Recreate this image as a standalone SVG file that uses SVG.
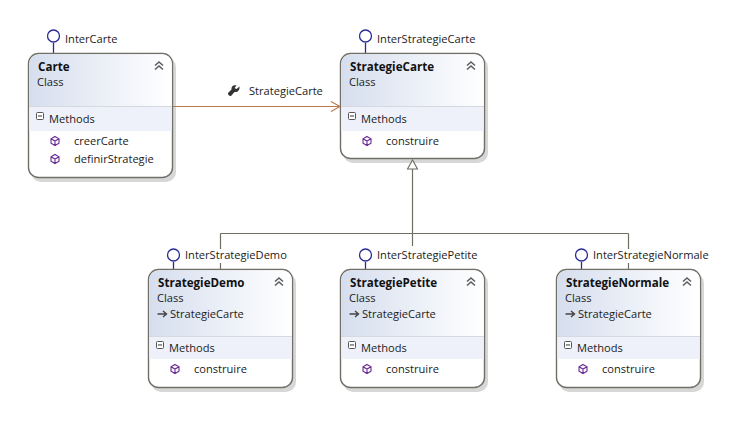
<svg xmlns="http://www.w3.org/2000/svg" width="756" height="432" viewBox="0 0 756 432">
<style>
text{font-family:"Open Sans","Noto Sans","Liberation Sans",sans-serif;font-size:11.1px;fill:#1b1b1b}
.t{font-weight:700;font-size:11.6px;fill:#111}
.s{fill:#c9c9c9;opacity:.75}
.o{fill:#fff;stroke:#6f6f68;stroke-width:1.4}
.b{fill:#eef1f9}
.l{stroke:#d5d8de;stroke-width:1;fill:none}
.lol{fill:#fff;stroke:#2a2a96;stroke-width:1.3}
.stem{stroke:#2a2a96;stroke-width:1.3;fill:none}
.g{fill:none;stroke:#6e6e64;stroke-width:1.2}
.a{fill:none;stroke:#b9784d;stroke-width:1.1}
.m{fill:none;stroke:#6a2a96;stroke-width:1.1}
.c{fill:none;stroke:#5f5f5f;stroke-width:1.6}
.x{fill:#fff;stroke:#555;stroke-width:1}
</style>
<defs>
<linearGradient id="h" x1="0" y1="0" x2="1" y2="0"><stop offset="0" stop-color="#d6deee"/><stop offset="1" stop-color="#fff"/></linearGradient>
<g id="cube"><path class="m" d="M0-4.500 4-2.200V2.200L0 4.500-4 2.200V-2.200ZM-4-2.200 0 0 4-2.200M0 0V4.500"/></g>
<g id="chev"><path class="c" d="M-4 -0.500 0-4 4-0.500M-4 3.500 0 0 4 3.500"/></g>
<g id="minus"><rect class="x" x="-3.500" y="-3.500" width="7" height="7" rx="1"/><path d="M-2 0H2" stroke="#333" stroke-width="1"/></g>
<g id="inh"><path d="M-5.500 0H3M0-3 3.500 0 0 3" fill="none" stroke="#444" stroke-width="1.400"/></g>
</defs>

<g id="node-carte">
<rect class="s" x="31" y="57" width="145" height="125" rx="10"/>
<path class="stem" d="M53.500 43V54"/><circle class="lol" cx="53.500" cy="36" r="6"/>
<text x="65" y="43">InterCarte</text>
<rect class="o" x="28.500" y="53.500" width="144" height="124" rx="10"/>
<path d="M29.200 106V63.500A9.300 9.300 0 0 1 38.500 54.200H162.500A9.300 9.300 0 0 1 171.800 63.500V106Z" fill="url(#h)"/>
<rect class="b" x="29.200" y="106" width="142.600" height="25"/>
<path class="l" d="M29 106.500H172"/>
<text class="t" x="38" y="71">Carte</text><text x="37" y="86">Class</text>
<use href="#chev" x="159" y="66"/>
<use href="#minus" x="40" y="116"/><text x="49" y="123">Methods</text>
<use href="#cube" x="55" y="141"/><text x="74" y="145">creerCarte</text>
<use href="#cube" x="55" y="159"/><text x="74" y="163">definirStrategie</text>
</g>

<g id="node-strategiecarte">
<rect class="s" x="343" y="57" width="145" height="106" rx="10"/>
<path class="stem" d="M365.500 43V54"/><circle class="lol" cx="365.500" cy="36" r="6"/>
<text x="377" y="43">InterStrategieCarte</text>
<rect class="o" x="340.500" y="53.500" width="144" height="105" rx="10"/>
<path d="M341.200 106V63.500A9.300 9.300 0 0 1 350.500 54.200H474.500A9.300 9.300 0 0 1 483.800 63.500V106Z" fill="url(#h)"/>
<rect class="b" x="341.200" y="106" width="142.600" height="25"/>
<path class="l" d="M341 106.500H484"/>
<text class="t" x="350" y="71">StrategieCarte</text><text x="349" y="86">Class</text>
<use href="#chev" x="471" y="66"/>
<use href="#minus" x="352" y="116"/><text x="361" y="123">Methods</text>
<use href="#cube" x="367" y="141"/><text x="386" y="145">construire</text>
</g>

<g id="node-strategiedemo">
<rect class="s" x="151" y="273" width="145" height="119" rx="10"/>
<path class="stem" d="M173.500 262V269"/><circle class="lol" cx="173.500" cy="255" r="6"/>
<text x="185" y="259">InterStrategieDemo</text>
<rect class="o" x="148.500" y="269.500" width="144" height="118" rx="10"/>
<path d="M149.200 336V279.500A9.300 9.300 0 0 1 158.500 270.200H282.500A9.300 9.300 0 0 1 291.800 279.500V336Z" fill="url(#h)"/>
<rect class="b" x="149.200" y="336" width="142.600" height="23"/>
<path class="l" d="M149 336.500H292"/>
<text class="t" x="158" y="287">StrategieDemo</text><text x="157" y="302">Class</text>
<use href="#inh" x="163" y="314"/><text x="170" y="318">StrategieCarte</text>
<use href="#chev" x="279" y="282"/>
<use href="#minus" x="160" y="345"/><text x="169" y="352">Methods</text>
<use href="#cube" x="175" y="369"/><text x="194" y="373">construire</text>
</g>

<g id="node-strategiepetite">
<rect class="s" x="343" y="273" width="145" height="119" rx="10"/>
<path class="stem" d="M365.500 262V269"/><circle class="lol" cx="365.500" cy="255" r="6"/>
<text x="377" y="259">InterStrategiePetite</text>
<rect class="o" x="340.500" y="269.500" width="144" height="118" rx="10"/>
<path d="M341.200 336V279.500A9.300 9.300 0 0 1 350.500 270.200H474.500A9.300 9.300 0 0 1 483.800 279.500V336Z" fill="url(#h)"/>
<rect class="b" x="341.200" y="336" width="142.600" height="23"/>
<path class="l" d="M341 336.500H484"/>
<text class="t" x="350" y="287">StrategiePetite</text><text x="349" y="302">Class</text>
<use href="#inh" x="355" y="314"/><text x="362" y="318">StrategieCarte</text>
<use href="#chev" x="471" y="282"/>
<use href="#minus" x="352" y="345"/><text x="361" y="352">Methods</text>
<use href="#cube" x="367" y="369"/><text x="386" y="373">construire</text>
</g>

<g id="node-strategienormale">
<rect class="s" x="559" y="273" width="145" height="119" rx="10"/>
<path class="stem" d="M581.500 262V269"/><circle class="lol" cx="581.500" cy="255" r="6"/>
<text x="593" y="259">InterStrategieNormale</text>
<rect class="o" x="556.500" y="269.500" width="144" height="118" rx="10"/>
<path d="M557.200 336V279.500A9.300 9.300 0 0 1 566.500 270.200H690.500A9.300 9.300 0 0 1 699.800 279.500V336Z" fill="url(#h)"/>
<rect class="b" x="557.200" y="336" width="142.600" height="23"/>
<path class="l" d="M557 336.500H700"/>
<text class="t" x="566" y="287">StrategieNormale</text><text x="565" y="302">Class</text>
<use href="#inh" x="571" y="314"/><text x="578" y="318">StrategieCarte</text>
<use href="#chev" x="687" y="282"/>
<use href="#minus" x="568" y="345"/><text x="577" y="352">Methods</text>
<use href="#cube" x="583" y="369"/><text x="602" y="373">construire</text>
</g>

<g id="connectors">
<path class="a" d="M173 106.500H340M331 101.500 340 106.500 331 111.500"/>
<path class="g" d="M412.500 169V246"/>
<path class="g" d="M220.500 233.500H628.500M220.500 233.500V249M220.500 263V269M628.500 233.500V249M628.500 263V269"/>
<path d="M412.500 160 407.500 169H417.500Z" fill="#fff" stroke="#6e6e64" stroke-width="1.100"/>
<path d="M239.500 86.500 236.500 89 234.500 88 236.500 85.500C233.500 84.500 231 86.500 231.500 89.500L228 93C227.500 94.500 229.500 96.500 231 96L234.500 92C237.500 92.500 240 90 239.500 86.500Z" fill="#333"/>
<text x="249" y="95">StrategieCarte</text>
</g>
</svg>
